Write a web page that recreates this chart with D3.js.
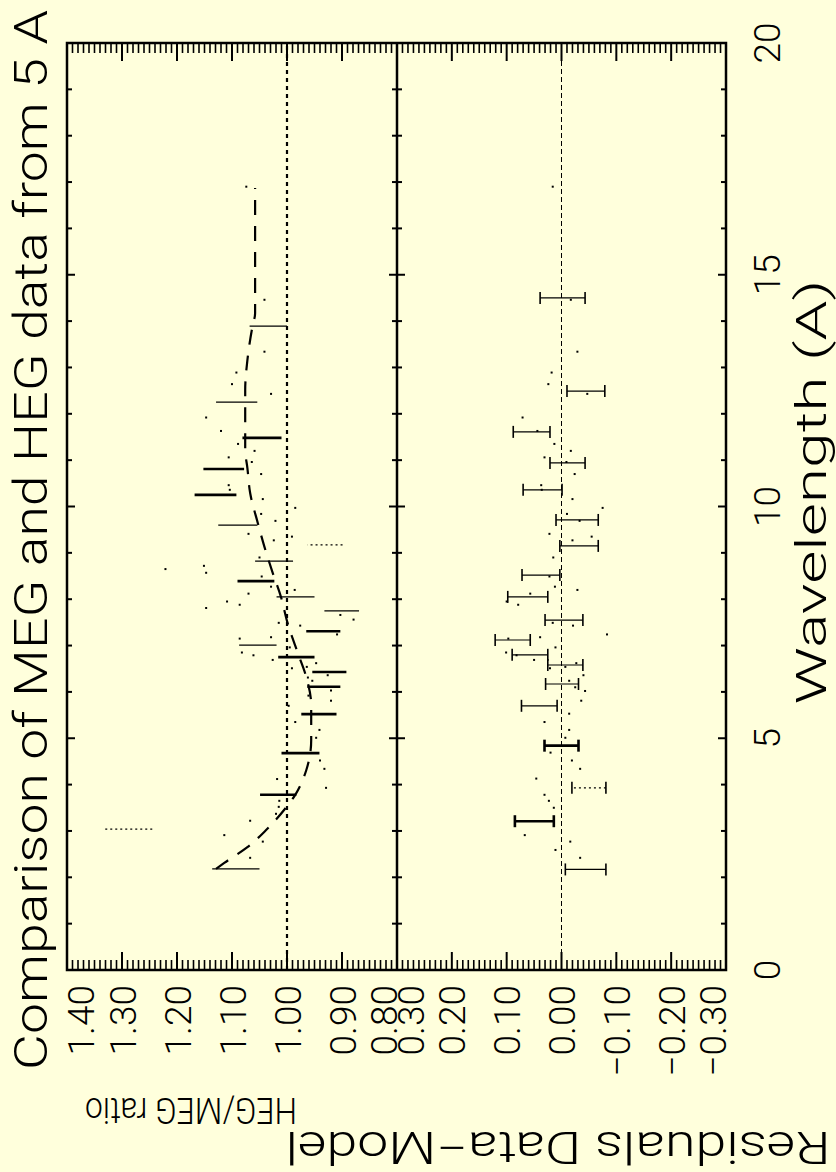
<!DOCTYPE html>
<html>
<head>
<meta charset="utf-8">
<script src="https://cdn.jsdelivr.net/npm/d3@7"></script>
<style>
  html, body { margin: 0; padding: 0; background: #ffffdc; }
  svg { display: block; }
  text { font-family: Roboto, "DejaVu Sans", sans-serif; font-weight: 300; fill: #000; }
</style>
</head>
<body>
<script>
// ---- HEG/MEG ratio panel: binned ratios (wavelength, lower, upper, dataset) ----
const ratioWave = [13.89, 12.25, 11.48, 10.81, 10.25, 9.60, 9.17, 8.82, 8.39, 8.05, 7.75,
                   7.31, 7.01, 6.75, 6.43, 6.11, 5.52, 4.68, 3.78, 3.04, 2.18];
const ratioLo   = [1.000, 1.054, 1.010, 1.078, 1.092, 1.054, 0.899, 0.989, 1.023, 0.950, 0.869,
                   0.903, 1.019, 0.950, 0.892, 0.903, 0.910, 0.941, 0.983, 1.245, 1.050];
const ratioHi   = [1.068, 1.129, 1.081, 1.152, 1.168, 1.125, 0.963, 1.058, 1.090, 1.019, 0.932,
                   0.965, 1.087, 1.016, 0.954, 0.963, 0.974, 1.010, 1.049, 1.332, 1.136];
const ratioSet  = ["b", "b", "a", "a", "a", "b", "c", "b", "a", "b", "b",
                   "a", "b", "a", "a", "a", "a", "a", "a", "c", "b"];

// unbinned ratio points
const ptWave  = [16.90, 14.46, 13.34, 12.89, 12.64, 12.43, 11.92, 11.63, 11.35, 11.20, 11.06, 10.96,
                 10.70, 10.46, 10.36, 10.16, 9.97, 9.84, 9.69, 9.41, 9.35, 9.27, 8.90, 8.72, 8.65,
                 8.57, 8.49, 8.27, 8.20, 8.12, 7.95, 7.88, 7.81, 7.66, 7.56, 7.49, 7.43, 7.24, 7.15,
                 7.18, 6.96, 6.85, 6.79, 6.69, 6.62, 6.54, 6.51, 6.36, 6.31, 6.24, 6.03, 5.92, 5.81,
                 5.70, 5.35, 5.18, 5.01, 4.52, 4.34, 3.93, 4.12, 3.65, 3.52, 3.37, 3.22, 2.77, 2.91, 2.42];
const ptRatio = [1.074, 1.041, 1.041, 1.092, 1.100, 1.029, 1.147, 1.120, 1.089, 1.059, 1.106, 1.064,
                 1.047, 1.106, 1.104, 1.044, 0.985, 1.047, 1.021, 1.070, 0.991, 1.024, 1.050, 1.151, 1.221,
                 1.147, 1.046, 1.029, 0.986, 1.070, 1.109, 1.086, 1.147, 0.903, 0.879, 1.015, 0.976, 0.909, 1.086,
                 1.029, 0.995, 1.082, 1.061, 1.026, 0.947, 0.964, 0.991, 0.926, 0.962, 0.954, 0.920, 0.961, 0.920,
                 0.997, 0.985, 0.941, 0.947, 0.940, 0.932, 0.929, 1.018, 1.014, 1.015, 1.020, 1.067, 1.044, 1.114, 1.067];

// model ratio curve
const modelWave  = [2.18, 2.31, 2.65, 3.02, 3.50, 3.78, 4.31, 4.96, 5.72, 6.32, 6.86, 7.49, 8.05,
                    8.57, 9.13, 9.64, 10.29, 10.83, 11.22, 12.51, 13.16, 13.87, 14.17, 16.87];
const modelRatio = [1.129, 1.114, 1.072, 1.038, 1.002, 0.985, 0.965, 0.956, 0.956, 0.965, 0.981, 0.999, 1.011,
                    1.026, 1.041, 1.053, 1.067, 1.072, 1.076, 1.076, 1.072, 1.063, 1.058, 1.058];

// ---- Residuals panel (Data - Model) ----
const resWave = [14.50, 12.49, 11.61, 10.94, 10.36, 9.71, 9.15, 8.52, 8.05, 7.55, 7.12, 6.80, 6.58,
                 6.17, 5.70, 4.84, 3.93, 3.21, 2.17];
const resLo   = [-0.043, -0.079, 0.021, -0.043, -0.001, -0.067, -0.067, 0.003, 0.025, -0.039, 0.057, 0.025, -0.039,
                 -0.031, 0.008, -0.031, -0.081, 0.014, -0.081];
const resHi   = [0.039, -0.010, 0.088, 0.021, 0.070, 0.010, 0.003, 0.072, 0.098, 0.030, 0.121, 0.090, 0.025,
                 0.029, 0.073, 0.031, -0.019, 0.085, -0.007];
const resSet  = ["b", "b", "b", "b", "b", "b", "b", "b", "b", "b", "b", "b", "b",
                 "b", "b", "a", "c", "a", "b"];

// unbinned residual points
const resPtWave = [16.90, 14.46, 13.34, 12.89, 12.64, 12.43, 11.92, 11.63, 11.35, 11.20, 11.06, 10.96,
                   10.70, 10.46, 10.36, 10.16, 9.97, 9.84, 9.69, 9.41, 9.35, 9.27, 8.90, 8.49, 8.27,
                   8.20, 8.12, 7.95, 7.88, 7.49, 7.43, 7.24, 7.15, 7.18, 6.96, 6.85, 6.79, 6.69, 6.62,
                   6.54, 6.51, 6.36,
                   6.24, 6.10, 6.02, 5.81, 5.53, 5.35, 5.18, 5.01, 4.69, 4.52, 4.34, 4.13, 3.78, 3.65,
                   3.50, 2.91, 2.77, 2.59, 2.42];
const resPtVal  = [0.016, -0.017, -0.029, 0.018, 0.024, -0.047, 0.071, 0.044, 0.013, -0.017, 0.031, -0.009,
                   -0.024, 0.037, 0.036, -0.020, -0.075, -0.010, -0.033, 0.022, -0.055, -0.020, 0.015, 0.022, 0.012,
                   -0.029, 0.057, 0.100, 0.079, 0.016, -0.021, -0.083, 0.097, 0.039, 0.011, 0.101, 0.082, 0.050, -0.027,
                   -0.007, 0.021, -0.040,
                   -0.014, -0.025, -0.043, -0.036, -0.014, 0.031, -0.014, -0.007, 0.020, -0.019, -0.034, 0.046,
                   0.031, 0.023, 0.014, 0.067, -0.016, 0.011, -0.034];

// ---- axes ----
const waveTicks  = [0, 5, 10, 15, 20];
const ratioTicks = [1.40, 1.30, 1.20, 1.10, 1.00, 0.90, 0.80];
const resTicks   = [0.30, 0.20, 0.10, 0.00, -0.10, -0.20, -0.30];

const title  = "Comparison of MEG and HEG data from 5 A";
const xTitle = "Wavelength (A)";
const yTitle1 = "HEG/MEG ratio";
const yTitle2 = "Residuals Data\u2212Model";

// ---------------------------------------------------------------
const W = 836, H = 1172;
const svg = d3.select("body").append("svg").attr("width", W).attr("height", H);
svg.append("rect").attr("width", W).attr("height", H).attr("fill", "#ffffdc");

// the plot is laid out landscape (H wide, W tall) and turned a quarter turn
const g = svg.append("g").attr("transform", `translate(0,${H}) rotate(-90)`);

const x  = d3.scaleLinear().domain([0, 20]).range([202, 1129]);
const yR = d3.scaleLinear().domain([0.8, 1.4]).range([397, 67]);
const yD = d3.scaleLinear().domain([-0.3, 0.3]).range([726, 397]);

const uLeft = x.range()[0], uRight = x.range()[1];
const vTop = 67, vMid = 397, vBottom = 726;

// minor / major ticks along the wavelength direction
function waveTickMarks(v, dir, both) {
  d3.range(0, 21, 1).forEach(t => {
    const len = t % 5 === 0 ? 8 : 5;
    const u = x(t);
    g.append("line").attr("x1", u).attr("x2", u)
      .attr("y1", both ? v - len : v).attr("y2", v + dir * len)
      .attr("stroke", "#000").attr("stroke-width", 2);
  });
}
waveTickMarks(vTop, 1, false);
waveTickMarks(vMid, 1, true);
waveTickMarks(vBottom, -1, false);

// minor / major ticks along the ratio and residual directions
function valueTicks(scale, lo, hi) {
  const n = Math.round((hi - lo) / 0.01);
  for (let i = 0; i <= n; i++) {
    const val = lo + i * 0.01;
    const v = scale(val);
    const len = i % 10 === 0 ? 18 : 10;
    [[uLeft, 1], [uRight, -1]].forEach(([u, dir]) => {
      g.append("line").attr("x1", u).attr("x2", u + dir * len)
        .attr("y1", v).attr("y2", v)
        .attr("stroke", "#000").attr("stroke-width", i % 10 === 0 ? 2 : 1.6);
    });
  }
}
valueTicks(yR, 0.8, 1.4);
valueTicks(yD, -0.3, 0.3);

// frame and panel divider
g.append("rect").attr("x", uLeft).attr("y", vTop).attr("width", uRight - uLeft).attr("height", vBottom - vTop)
  .attr("fill", "none").attr("stroke", "#000").attr("stroke-width", 2.5);
g.append("line").attr("x1", uLeft).attr("x2", uRight).attr("y1", vMid).attr("y2", vMid)
  .attr("stroke", "#000").attr("stroke-width", 2.5);

// reference lines
g.append("line").attr("x1", uLeft).attr("x2", uRight).attr("y1", yR(1)).attr("y2", yR(1))
  .attr("stroke", "#000").attr("stroke-width", 2.2).attr("stroke-dasharray", "4,4");
g.append("line").attr("x1", uLeft).attr("x2", uRight).attr("y1", yD(0)).attr("y2", yD(0))
  .attr("stroke", "#000").attr("stroke-width", 1).attr("stroke-dasharray", "5,3");

// model curve
const model = d3.line().x(d => x(d[0])).y(d => yR(d[1])).curve(d3.curveMonotoneX);
g.append("path").datum(modelWave.map((w, i) => [w, modelRatio[i]]))
  .attr("d", model).attr("fill", "none").attr("stroke", "#000")
  .attr("stroke-width", 2.2).attr("stroke-dasharray", "15,11");

const barStyle = {
  a: { w: 2.6, dash: null },
  b: { w: 1.2, dash: null },
  c: { w: 1.2, dash: "2,3" }
};

// ratio bars (no caps)
ratioWave.forEach((w, i) => {
  const s = barStyle[ratioSet[i]];
  g.append("line").attr("x1", x(w)).attr("x2", x(w))
    .attr("y1", yR(ratioLo[i])).attr("y2", yR(ratioHi[i]))
    .attr("stroke", "#000").attr("stroke-width", s.w)
    .attr("stroke-dasharray", s.dash);
});

// residual bars with end caps
resWave.forEach((w, i) => {
  const s = barStyle[resSet[i]];
  const u = x(w);
  g.append("line").attr("x1", u).attr("x2", u)
    .attr("y1", yD(resLo[i])).attr("y2", yD(resHi[i]))
    .attr("stroke", "#000").attr("stroke-width", s.w)
    .attr("stroke-dasharray", s.dash);
  [resLo[i], resHi[i]].forEach(val => {
    g.append("line").attr("x1", u - 6).attr("x2", u + 6)
      .attr("y1", yD(val)).attr("y2", yD(val))
      .attr("stroke", "#000").attr("stroke-width", Math.max(1.6, s.w));
  });
});

// single points
g.selectAll("rect.pt").data(ptWave.map((w, i) => [w, ptRatio[i]])).enter()
  .append("rect").attr("class", "pt")
  .attr("x", d => x(d[0]) - 1).attr("y", d => yR(d[1]) - 1)
  .attr("width", 2).attr("height", 2).attr("fill", "#000");
g.selectAll("rect.rpt").data(resPtWave.map((w, i) => [w, resPtVal[i]])).enter()
  .append("rect").attr("class", "rpt")
  .attr("x", d => x(d[0]) - 1).attr("y", d => yD(d[1]) - 1)
  .attr("width", 2).attr("height", 2).attr("fill", "#000");

// tick labels
const fmt = d3.format(".2f");
const lblSize = 37, capH = 27;
function valueLabels(scale, ticks, lo, hi) {
  ticks.forEach(t => {
    let c = scale(t);
    c = Math.max(lo + capH / 2, Math.min(hi - capH / 2, c));
    g.append("text").attr("x", 187).attr("y", c + capH / 2)
      .attr("text-anchor", "end").attr("font-size", lblSize)
      .text(fmt(t).replace("-", "\u2212"));
  });
}
valueLabels(yR, ratioTicks, vTop, vMid);
valueLabels(yD, resTicks, vMid, vBottom);

waveTicks.forEach(t => {
  g.append("text").attr("x", x(t)).attr("y", 780)
    .attr("text-anchor", "middle").attr("font-size", lblSize).text(t);
});

// titles
g.append("text").attr("x", 102).attr("y", 47).attr("font-size", 46)
  .attr("textLength", 1060).attr("lengthAdjust", "spacingAndGlyphs").text(title);
g.append("text").attr("x", 680).attr("y", 826).attr("text-anchor", "middle")
  .attr("font-size", 42).attr("textLength", 425).attr("lengthAdjust", "spacingAndGlyphs").text(xTitle);
g.append("text").attr("transform", "translate(74,191) rotate(-90)")
  .attr("text-anchor", "middle").attr("font-size", 37)
  .attr("textLength", 212).attr("lengthAdjust", "spacingAndGlyphs").text(yTitle1);
g.append("text").attr("transform", "translate(40,558) rotate(-90)")
  .attr("text-anchor", "middle").attr("font-size", 44)
  .attr("textLength", 545).attr("lengthAdjust", "spacingAndGlyphs").text(yTitle2);
</script>
</body>
</html>
